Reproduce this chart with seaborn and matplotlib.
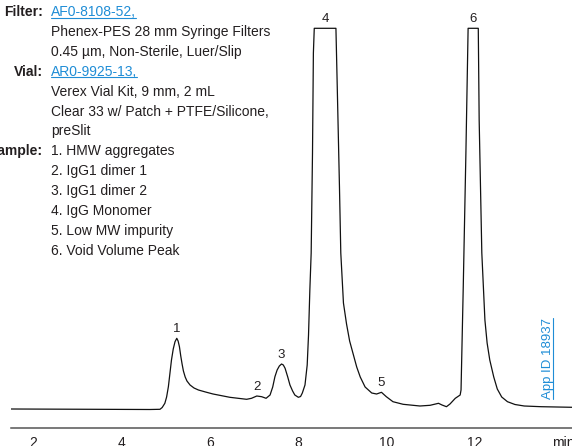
"""
plot.py
SEC chromatogram of an IgG sample with filter / vial / sample notes.
Saves the figure to out.png.
"""

import matplotlib
matplotlib.use("Agg")
import matplotlib.pyplot as plt
import seaborn as sns
import pandas as pd

# trace: retention time (min) and signal (relative units)
time_min = [1.50, 4.64, 4.87, 4.92, 4.98, 5.02, 5.06, 5.13, 5.17, 5.21,
            5.25, 5.28, 5.31, 5.34, 5.37, 5.40, 5.44, 5.48, 5.55, 5.64,
            5.74, 5.90, 6.07, 6.45, 6.83, 6.94, 7.06, 7.17, 7.27, 7.36,
            7.42, 7.47, 7.52, 7.57, 7.62, 7.66, 7.70, 7.76, 7.81, 7.87,
            7.92, 8.00, 8.05, 8.09, 8.15, 8.20, 8.23, 8.26, 8.29, 8.32,
            8.34, 8.36, 8.85, 8.88, 8.93, 8.96, 9.02, 9.09, 9.16, 9.24,
            9.32, 9.40, 9.51, 9.66, 9.77, 9.88, 9.99, 10.14, 10.37, 10.75,
            10.98, 11.17, 11.25, 11.35, 11.43, 11.55, 11.66, 11.68, 11.73, 11.79,
            11.84, 12.07, 12.09, 12.15, 12.22, 12.27, 12.33, 12.42, 12.50, 12.60,
            12.73, 12.90, 13.11, 13.49, 14.20]
signal = [0.0, -0.5, -0.3, 1.5, 5.7, 12.0, 22.3, 49.0, 60.0, 67.3,
          70.7, 68.0, 62.3, 53.0, 45.0, 38.0, 32.0, 28.0, 24.0, 21.0,
          19.0, 17.0, 15.0, 11.7, 9.7, 10.7, 13.0, 12.3, 10.7, 14.0,
          22.0, 32.3, 39.0, 43.0, 45.0, 44.0, 40.7, 32.0, 24.0, 18.0,
          14.0, 11.7, 12.5, 16.0, 24.0, 44.0, 74.0, 119.0, 156.0, 256.0,
          356.0, 380.7, 380.7, 322.0, 222.0, 156.0, 106.0, 85.0, 68.0, 55.0,
          42.0, 32.0, 22.0, 16.0, 15.0, 16.7, 12.3, 7.3, 4.7, 3.0,
          3.7, 5.7, 4.0, 2.3, 5.0, 10.7, 14.0, 19.0, 122.0, 256.0,
          380.7, 380.7, 289.0, 156.0, 89.0, 66.0, 49.0, 32.0, 20.0, 12.0,
          7.3, 4.5, 3.0, 2.3, 1.7]
assert len(time_min) == len(signal)

# peak numbers and their approximate retention times
peak_ids = ["1", "2", "3", "4", "5", "6"]
peak_times = [5.25, 7.06, 7.62, 8.60, 9.88, 11.96]

x_ticks = [2, 4, 6, 8, 10, 12, 14]
x_ticklabels = ["2", "4", "6", "8", "10", "12", "min"]

# notes block: row labels by row index, then one text per row
note_labels = {0: "Filter:", 3: "Vial:", 7: "Sample:"}
note_lines = ["AF0-8108-52,",
              "Phenex-PES 28 mm Syringe Filters",
              "0.45 µm, Non-Sterile, Luer/Slip",
              "AR0-9925-13,",
              "Verex Vial Kit, 9 mm, 2 mL",
              "Clear 33 w/ Patch + PTFE/Silicone,",
              "preSlit",
              "1. HMW aggregates",
              "2. IgG1 dimer 1",
              "3. IgG1 dimer 2",
              "4. IgG Monomer",
              "5. Low MW impurity",
              "6. Void Volume Peak"]
link_rows = [0, 3]
app_id = "App ID 18937"

LINK = "#1f8dd6"
INK = "#231f20"
W, H = 572, 446

sns.set_style("white")
plt.rcParams["font.family"] = ["Liberation Sans Narrow", "Liberation Sans", "DejaVu Sans"]

fig = plt.figure(figsize=(W / 100, H / 100), dpi=100)
ax = fig.add_axes([11 / W, 18 / H, 1 - 11 / W, 1 - 18 / H])

df = pd.DataFrame({"time": time_min, "signal": signal})
sns.lineplot(data=df, x="time", y="signal", ax=ax, color="#111111", linewidth=0.9,
             sort=False, estimator=None)

ax.set_xlim(1.50, 14.19)
ax.set_ylim(-19, 409)
ax.set_xticks(x_ticks)
ax.set_xticklabels(x_ticklabels)
ax.set_yticks([])
ax.set_xlabel("")
ax.set_ylabel("")
ax.spines[["top", "right", "left"]].set_visible(False)
ax.spines["bottom"].set_color("#555555")
ax.spines["bottom"].set_linewidth(1.1)
ax.tick_params(axis="x", direction="out", length=4, width=1, color="#555555",
               labelsize=10, pad=1.5, labelcolor=INK)

# peak numbers just above each apex
for pid, pt in zip(peak_ids, peak_times):
    near = df[(df["time"] > pt - 0.3) & (df["time"] < pt + 0.3)]
    apex = near["signal"].max()
    ax.annotate(pid, (pt, apex), xytext=(0, 3), textcoords="offset pixels",
                ha="center", va="bottom", fontsize=9.5, color=INK)


def fx(px):
    return px / W


def fy(py):
    return 1 - py / H


texts = []
for i, line in enumerate(note_lines):
    base = 16 + 19.9 * i
    if i in note_labels:
        fig.text(fx(42.7), fy(base), note_labels[i], ha="right", va="baseline",
                 fontsize=10, fontweight="bold", color=INK)
    t = fig.text(fx(50.7), fy(base), line, ha="left", va="baseline", fontsize=10,
                 color=LINK if i in link_rows else INK)
    texts.append(t)

app = fig.text(fx(550.5), fy(399), app_id, rotation=90, rotation_mode="anchor",
               ha="left", va="baseline", fontsize=9.5, color=LINK)

# underline the links
fig.canvas.draw()
r = fig.canvas.get_renderer()
inv = fig.transFigure.inverted()
for i in link_rows:
    bb = texts[i].get_window_extent(r).transformed(inv)
    y = fy(16 + 19.9 * i + 1.5)
    fig.add_artist(plt.Line2D([bb.x0, bb.x1], [y, y], color=LINK, linewidth=0.8))
bb = app.get_window_extent(r).transformed(inv)
fig.add_artist(plt.Line2D([fx(552.5), fx(552.5)], [bb.y0, bb.y1], color=LINK, linewidth=0.8))

plt.savefig("out.png", dpi=100)
plt.close()
